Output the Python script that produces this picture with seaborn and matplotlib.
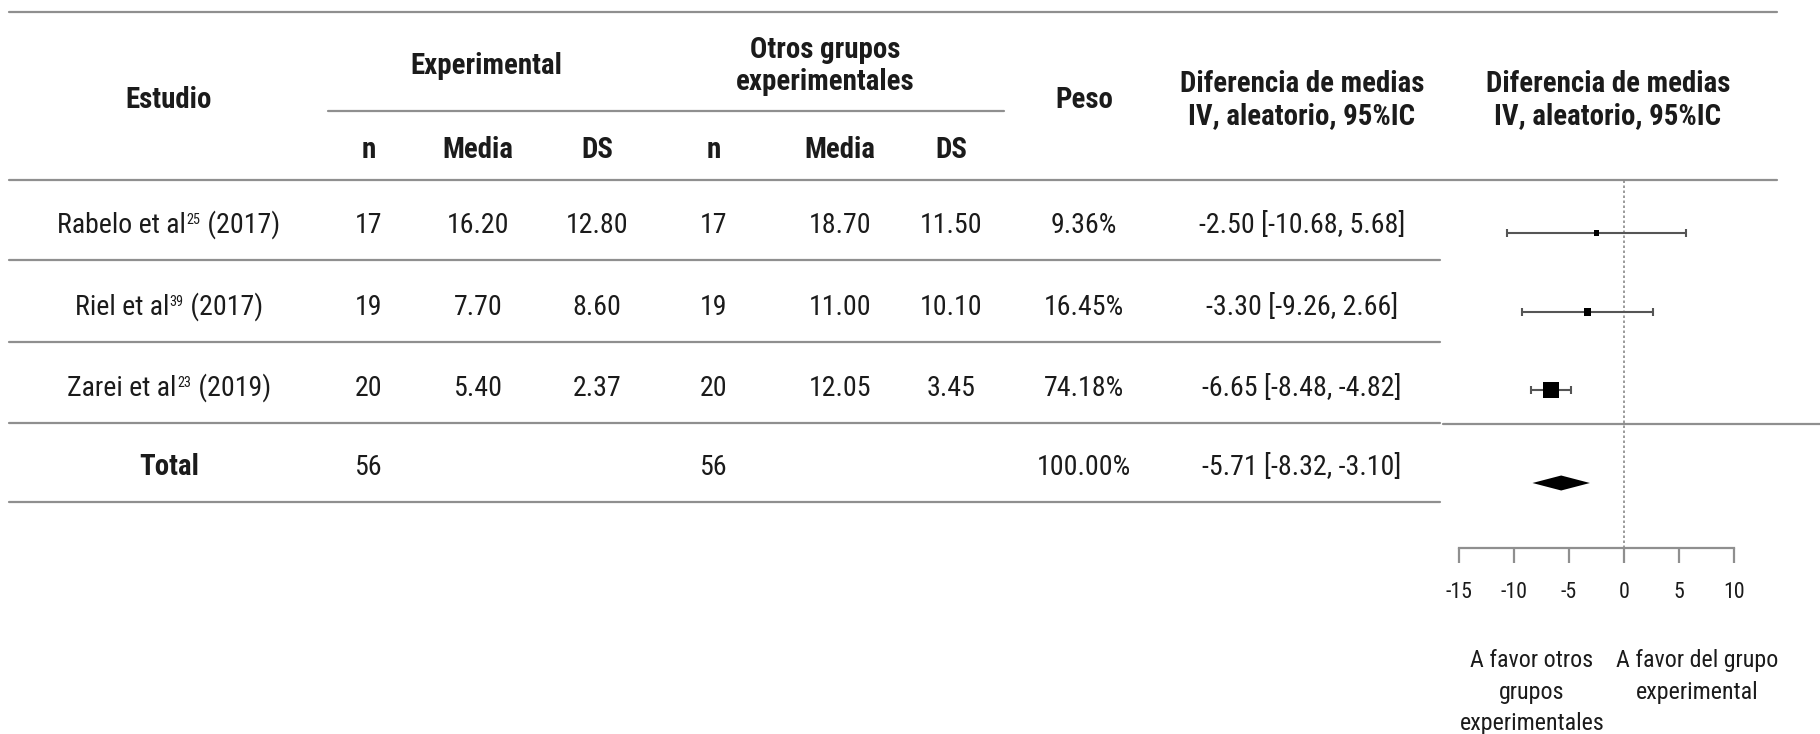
import matplotlib
matplotlib.use("Agg")
import matplotlib.pyplot as plt
from matplotlib import font_manager
import seaborn as sns
import pandas as pd

# ---------------- data ----------------
studies = ["Rabelo et al", "Riel et al", "Zarei et al"]
refs = ["25", "39", "23"]
years = ["2017", "2017", "2019"]
n_exp = [17, 19, 20]
mean_exp = [16.20, 7.70, 5.40]
sd_exp = [12.80, 8.60, 2.37]
n_ctl = [17, 19, 20]
mean_ctl = [18.70, 11.00, 12.05]
sd_ctl = [11.50, 10.10, 3.45]
weights = [9.36, 16.45, 74.18]
md = [-2.50, -3.30, -6.65]
ci_lo = [-10.68, -9.26, -8.48]
ci_hi = [5.68, 2.66, -4.82]
total_n_exp = 56
total_n_ctl = 56
total_weight = 100.00
total_md = -5.71
total_lo = -8.32
total_hi = -3.10
x_ticks = [-15, -10, -5, 0, 5, 10]
label_left = "A favor otros\ngrupos\nexperimentales"
label_right = "A favor del grupo\nexperimental"

# ---------------- font choice ----------------
sns.set_theme(style="white")


def _w(v):
    if isinstance(v, str):
        return font_manager.weight_dict.get(v, 400)
    return int(v)


def pick_font():
    prefs = ["Liberation Sans Narrow", "Arial Narrow", "Roboto Condensed", "PT Sans Narrow",
             "IBM Plex Sans Condensed", "Fira Sans Condensed", "Liberation Sans"]
    entries = font_manager.fontManager.ttflist
    for p in prefs:
        ws = {_w(f.weight) for f in entries if f.name == p and f.style == "normal"}
        if 400 in ws and 700 in ws:
            return p
    return "DejaVu Sans"


FONT = pick_font()
plt.rcParams["font.family"] = [FONT, "DejaVu Sans"]

W, H = 1820, 734
fig = plt.figure(figsize=(W / 100, H / 100), dpi=100)
ax = fig.add_axes([0, 0, 1, 1])
ax.set_xlim(0, W)
ax.set_ylim(H, 0)
ax.axis("off")
rend = fig.canvas.get_renderer()


def fit(s, target_px, weight="normal"):
    t = ax.text(0, 0, s, fontsize=20, fontweight=weight)
    w = t.get_window_extent(renderer=rend).width
    t.remove()
    return 20 * target_px / w


def width_of(s, size, weight="normal"):
    t = ax.text(0, 0, s, fontsize=size, fontweight=weight)
    w = t.get_window_extent(renderer=rend).width
    t.remove()
    return w


FS_BODY = fit("-2.50 [-10.68, 5.68]", 206)
FS_HEAD = fit("Diferencia de medias", 242, "bold")
FS_SUP = fit("25", 14)
FS_TICK = fit("-10", 27)
FS_LAB = fit("A favor del grupo", 162)

TXT = "#1b1b1b"
LINE = "#8f8f8f"
LW = 1.6

# horizontal rules
ax.plot([9, 1777], [12, 12], color=LINE, lw=LW)
ax.plot([328, 1004], [111, 111], color=LINE, lw=LW)
ax.plot([9, 1777], [180, 180], color=LINE, lw=LW)
for yl in [260, 342, 423, 502]:
    ax.plot([9, 1440], [yl, yl], color=LINE, lw=LW)
ax.plot([1443, 1820], [424, 424], color=LINE, lw=LW)

# headers (baseline anchored)
hd = dict(ha="center", va="baseline", fontsize=FS_HEAD, fontweight="bold", color=TXT)
ax.text(169, 108, "Estudio", **hd)
ax.text(486, 74, "Experimental", **hd)
ax.text(825, 58, "Otros grupos", **hd)
ax.text(825, 90, "experimentales", **hd)
ax.text(1084, 108, "Peso", **hd)
for cx in [1302, 1608]:
    ax.text(cx, 92, "Diferencia de medias", **hd)
    ax.text(cx, 124, "IV, aleatorio, 95%IC", **hd)
col_x = [369, 478, 597, 714, 840, 951]
for cx, lab in zip(col_x, ["n", "Media", "DS", "n", "Media", "DS"]):
    ax.text(cx, 158, lab, **hd)

# body rows
bd = dict(ha="center", va="baseline", fontsize=FS_BODY, color=TXT)
row_base = [233, 315, 396]
for i, yy in enumerate(row_base):
    # study label with small superscript reference
    a, b, c = studies[i], refs[i], f" ({years[i]})"
    wa, wb, wc = width_of(a, FS_BODY), width_of(b, FS_SUP), width_of(c, FS_BODY)
    x0 = 169 - (wa + wb + wc + 1) / 2
    ax.text(x0, yy, a, ha="left", va="baseline", fontsize=FS_BODY, color=TXT)
    ax.text(x0 + wa + 0.5, yy - 9, b, ha="left", va="baseline", fontsize=FS_SUP, color=TXT)
    ax.text(x0 + wa + wb + 1, yy, c, ha="left", va="baseline", fontsize=FS_BODY, color=TXT)
    vals = [f"{n_exp[i]}", f"{mean_exp[i]:.2f}", f"{sd_exp[i]:.2f}",
            f"{n_ctl[i]}", f"{mean_ctl[i]:.2f}", f"{sd_ctl[i]:.2f}"]
    for cx, v in zip(col_x, vals):
        ax.text(cx, yy, v, **bd)
    ax.text(1084, yy, f"{weights[i]:.2f}%", **bd)
    ax.text(1302, yy, f"{md[i]:.2f} [{ci_lo[i]:.2f}, {ci_hi[i]:.2f}]", **bd)

ty = 475
ax.text(169, ty, "Total", ha="center", va="baseline", fontsize=FS_HEAD, fontweight="bold", color=TXT)
ax.text(col_x[0], ty, f"{total_n_exp}", **bd)
ax.text(col_x[3], ty, f"{total_n_ctl}", **bd)
ax.text(1084, ty, f"{total_weight:.2f}%", **bd)
ax.text(1302, ty, f"{total_md:.2f} [{total_lo:.2f}, {total_hi:.2f}]", **bd)

# ---------------- forest axes ----------------
fl, fr, ft, fb = 1459, 1734, 180, 548
axf = fig.add_axes([fl / W, (H - fb) / H, (fr - fl) / W, (fb - ft) / H])
axf.set_xlim(x_ticks[0], x_ticks[-1])
axf.patch.set_alpha(0)
for s in ["top", "left", "right"]:
    axf.spines[s].set_visible(False)
axf.spines["bottom"].set_color(LINE)
axf.spines["bottom"].set_linewidth(LW)

forest_y = [233, 312, 390]
df = pd.DataFrame({"md": md, "lo": ci_lo, "hi": ci_hi, "w": weights, "y": forest_y})
axf.errorbar(df["md"], df["y"], xerr=[df["md"] - df["lo"], df["hi"] - df["md"]],
             fmt="none", ecolor="#555555", elinewidth=1.5, capsize=2.9, capthick=1.5, zorder=2)
sns.scatterplot(data=df, x="md", y="y", size="w", sizes=(18, 125),
                size_norm=(min(weights), max(weights)), marker="s", color="black",
                edgecolor="black", linewidth=0, legend=False, ax=axf, zorder=3)
dy = 483
axf.fill([total_lo, total_md, total_hi, total_md], [dy, dy - 7.5, dy, dy + 7.5],
         color="black", lw=0, zorder=3)
axf.axvline(0, color="#8a8a8a", ls=(0, (1.5, 1.5)), lw=1.2, zorder=1)

axf.set_xlim(x_ticks[0], x_ticks[-1])
axf.set_ylim(fb, ft)
axf.set_xlabel("")
axf.set_ylabel("")
axf.set_yticks([])
axf.set_xticks(x_ticks)
axf.set_xticklabels([str(t) for t in x_ticks])
axf.tick_params(axis="x", direction="out", length=10.8, width=LW, color=LINE,
                pad=14, labelsize=FS_TICK, labelcolor=TXT, bottom=True)

# direction labels
lab = dict(ha="center", va="baseline", fontsize=FS_LAB, color=TXT)
for k, line in enumerate(label_left.split("\n")):
    ax.text(1532, 667 + 31.5 * k, line, **lab)
for k, line in enumerate(label_right.split("\n")):
    ax.text(1697, 667 + 31.5 * k, line, **lab)

fig.savefig("out.png", dpi=100)
